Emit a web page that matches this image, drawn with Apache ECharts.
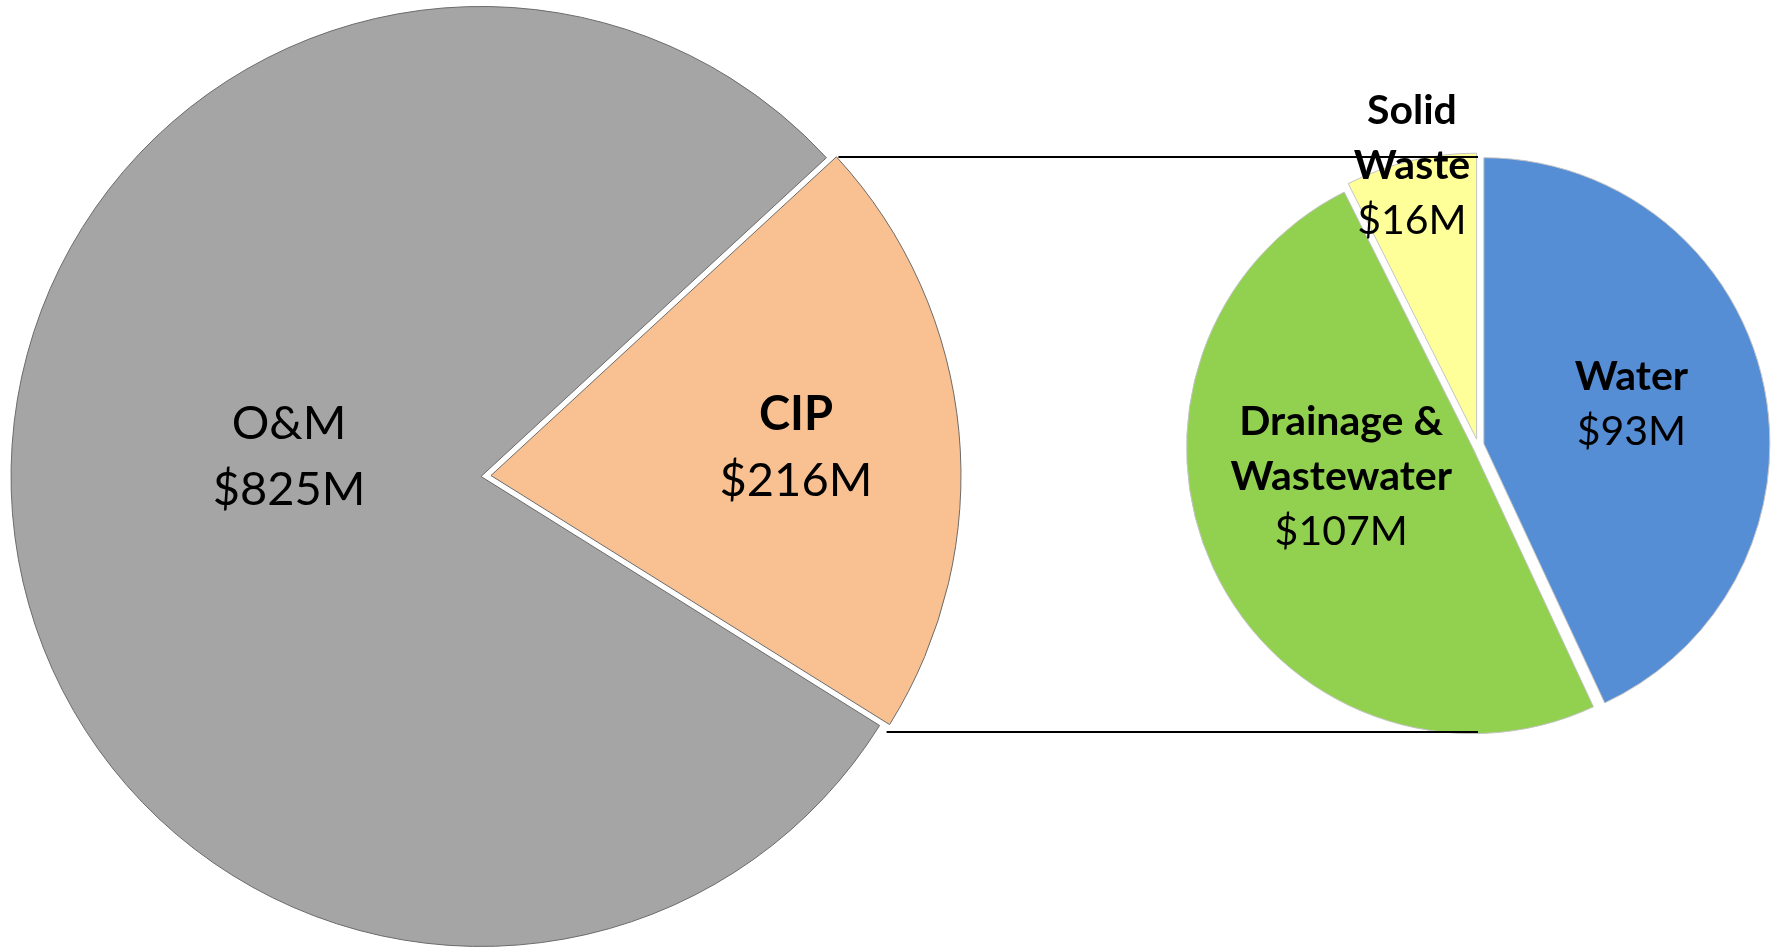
<!DOCTYPE html>
<html>
<head>
<meta charset="utf-8">
<script src="https://cdn.jsdelivr.net/npm/echarts@6/dist/echarts.min.js"></script>
<style>
  html, body { margin: 0; padding: 0; background: #fff; }
  #chart { width: 1779px; height: 948px; }
</style>
</head>
<body>
<div id="chart"></div>
<script>
// budget split
var mainNames = ['CIP', 'O&M'];
var mainValues = [216, 825];
var mainColors = ['#F9C192', '#A5A5A5'];

// breakdown of CIP
var cipNames = ['Water', 'Drainage &\nWastewater', 'Solid\nWaste'];
var cipValues = [93, 107, 16];
var cipColors = ['#558ED5', '#92D050', '#FFFF99'];

// layout
var leftC = [486, 476], leftR = 470, leftStart = 42.7, leftGap = 5;
var rightC = [1478, 445], rightR = 286, rightGap = 6;

var fontFam = 'Lato, "Open Sans", sans-serif';

function fmt(boldName) {
    return function (p) {
        var lines = p.name.split('\n').map(function (s) {
            return '{' + (boldName ? 'b' : 'n') + '|' + s + '}';
        });
        return lines.join('\n') + '\n{n|$' + p.value + 'M}';
    };
}

function richStyle(size, lh) {
    return {
        b: { fontFamily: fontFam, fontSize: size, fontWeight: 'bold', color: '#000', lineHeight: lh },
        n: { fontFamily: fontFam, fontSize: size, color: '#000', lineHeight: lh }
    };
}

// label nudges from the default inside spot
var mainOffsets = [[68, -5], [45, -42]];
var cipOffsets = [[5, -8], [0, -34], [-31, -131]];

function nudge(list) {
    return function (p) {
        var o = list[p.dataIndex];
        return { dx: o[0], dy: o[1] };
    };
}

var chart = echarts.init(document.getElementById('chart'));

// connector lines from CIP slice corners to the small pie
var total = mainValues[0] + mainValues[1];
var cipAngle = mainValues[0] / total * 360;
var mid = (leftStart - cipAngle / 2) * Math.PI / 180;
var a1 = leftStart * Math.PI / 180;
var a2 = (leftStart - cipAngle) * Math.PI / 180;
var ox = leftGap * Math.cos(mid);
var topX = leftC[0] + leftR * Math.cos(a1) + ox + 2;
var botX = leftC[0] + leftR * Math.cos(a2) + ox - 3;
var topY = rightC[1] - rightR - 2;
var botY = rightC[1] + rightR + 1;

chart.setOption({
    animation: false,
    graphic: [
        { type: 'line', z: 100, shape: { x1: topX, y1: topY, x2: rightC[0], y2: topY }, style: { stroke: '#000', lineWidth: 2 } },
        { type: 'line', z: 100, shape: { x1: botX, y1: botY, x2: rightC[0], y2: botY }, style: { stroke: '#000', lineWidth: 2 } }
    ],
    series: [
        {
            type: 'pie',
            center: leftC,
            radius: [0, leftR],
            startAngle: leftStart,
            clockwise: true,
            selectedMode: 'multiple',
            selectedOffset: leftGap,
            silent: true,
            itemStyle: { borderColor: '#6b6b6b', borderWidth: 1 },
            label: {
                position: 'inside',
                formatter: fmt(false),
                rich: richStyle(47, 66)
            },
            labelLine: { show: false },
            labelLayout: nudge(mainOffsets),
            data: mainNames.map(function (n, i) {
                return {
                    name: n, value: mainValues[i], selected: true,
                    itemStyle: { color: mainColors[i] },
                    label: { formatter: i === 0 ? fmt(true) : fmt(false) }
                };
            })
        },
        {
            type: 'pie',
            center: rightC,
            radius: [0, rightR],
            startAngle: 90,
            clockwise: true,
            selectedMode: 'multiple',
            selectedOffset: rightGap,
            silent: true,
            itemStyle: { borderColor: '#c4c4c4', borderWidth: 1 },
            label: {
                position: 'inside',
                formatter: fmt(true),
                rich: richStyle(41, 55)
            },
            labelLine: { show: false },
            labelLayout: nudge(cipOffsets),
            data: cipNames.map(function (n, i) {
                return {
                    name: n, value: cipValues[i], selected: true,
                    itemStyle: { color: cipColors[i] }
                };
            })
        }
    ]
});
</script>
</body>
</html>
